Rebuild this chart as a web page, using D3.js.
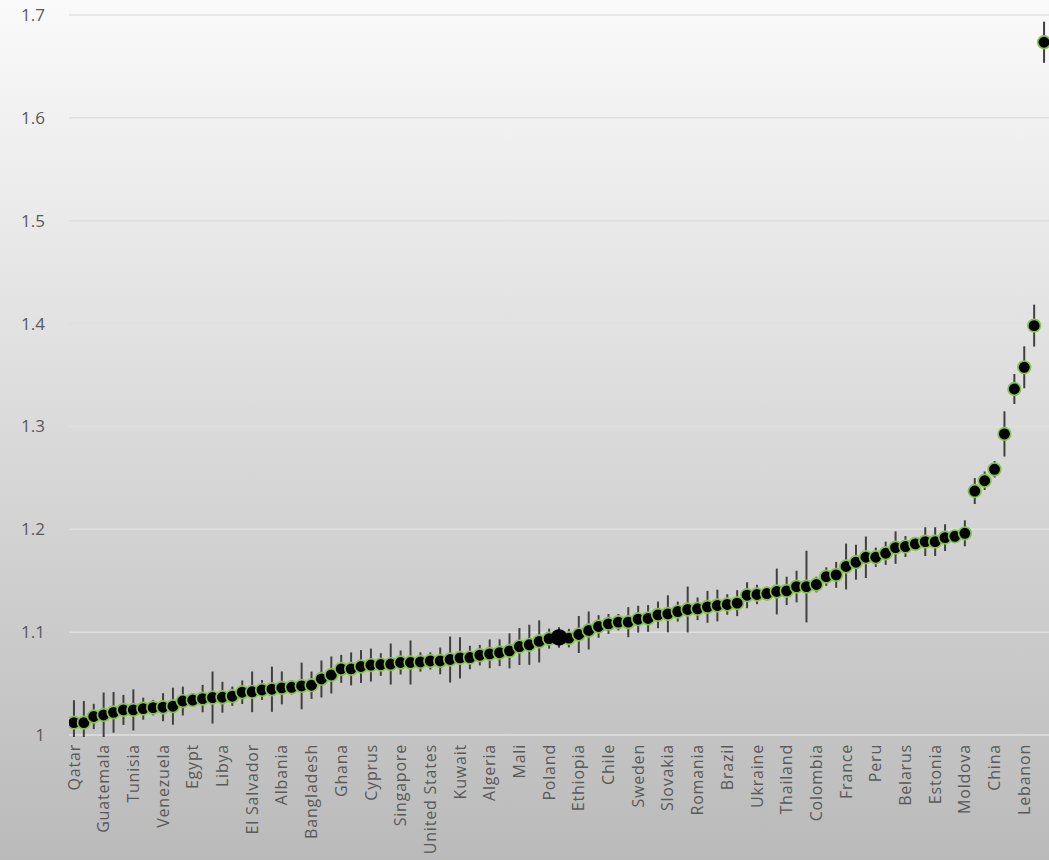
<!DOCTYPE html>
<html><head><meta charset="utf-8">
<script src="https://cdn.jsdelivr.net/npm/d3@7"></script>
<style>
html,body{margin:0;padding:0;}
svg{display:block;}
text{font-family:"Open Sans","Lato",sans-serif;fill:#595959;}
</style></head>
<body>
<script>
// Tick labels shown on the category axis (every third category)
const tickLabels = ["Qatar","Guatemala","Tunisia","Venezuela","Egypt","Libya","El Salvador","Albania","Bangladesh","Ghana","Cyprus","Singapore","United States","Kuwait","Algeria","Mali","Poland","Ethiopia","Chile","Sweden","Slovakia","Romania","Brazil","Ukraine","Thailand","Colombia","France","Peru","Belarus","Estonia","Moldova","China","Lebanon"];
const labelStep = 3;
// Point estimates, in sorted order (99 countries)
const values = [1.012,1.012,1.018,1.0195,1.022,1.0244,1.0244,1.0256,1.0266,1.027,
1.028,1.033,1.034,1.0354,1.0364,1.0367,1.0377,1.0416,1.042,1.0438,
1.0445,1.0458,1.0464,1.0477,1.0484,1.0545,1.0584,1.0643,1.0643,1.0666,
1.068,1.0685,1.069,1.0705,1.0705,1.071,1.072,1.072,1.0734,1.075,
1.0753,1.0776,1.0789,1.080,1.0818,1.086,1.0877,1.091,1.0937,1.0948,
1.0942,1.0977,1.1016,1.1055,1.108,1.1097,1.1097,1.1126,1.1133,1.1168,
1.1178,1.120,1.122,1.1227,1.1246,1.1259,1.1269,1.1282,1.1359,1.1366,
1.1375,1.1395,1.1401,1.1443,1.1443,1.1463,1.154,1.1557,1.1638,1.168,
1.1728,1.1728,1.1767,1.1822,1.1832,1.1858,1.188,1.188,1.1919,1.1932,
1.1961,1.2372,1.2472,1.2583,1.2927,1.3364,1.3575,1.398,1.6735];
// Error bar half-widths
const errors = [0.0218,0.021,0.0123,0.0218,0.0198,0.0146,0.020,0.0107,0.0075,0.0136,
0.018,0.014,0.0065,0.0133,0.0253,0.015,0.0094,0.0114,0.0198,0.0097,
0.022,0.016,0.007,0.0227,0.0133,0.018,0.018,0.0136,0.016,0.016,
0.016,0.011,0.020,0.0117,0.0214,0.0094,0.0084,0.013,0.0224,0.020,
0.0114,0.010,0.014,0.013,0.017,0.018,0.0195,0.0205,0.0097,0.010,
0.009,0.018,0.0185,0.011,0.0097,0.008,0.0146,0.013,0.013,0.013,
0.018,0.0097,0.0223,0.011,0.0155,0.0154,0.010,0.0126,0.0126,0.0094,
0.0066,0.0223,0.0138,0.0154,0.0348,0.0076,0.009,0.0126,0.0223,0.017,
0.0202,0.0094,0.0113,0.0158,0.0102,0.0057,0.014,0.014,0.013,0.005,
0.0126,0.0126,0.009,0.008,0.022,0.0146,0.0204,0.0204,0.02];
const highlightIndex = 49;
const yTicks = [1,1.1,1.2,1.3,1.4,1.5,1.6,1.7];

const W = 1049, H = 860;
const plot = {left:69, right:1049, top:15, bottom:735};

const svg = d3.select("body").append("svg").attr("width",W).attr("height",H);
const defs = svg.append("defs");
const grad = defs.append("linearGradient").attr("id","bg").attr("x1",0).attr("y1",0).attr("x2",0).attr("y2",1);
grad.append("stop").attr("offset","0%").attr("stop-color","#fafafa");
grad.append("stop").attr("offset","100%").attr("stop-color","#bababa");
svg.append("rect").attr("width",W).attr("height",H).attr("fill","url(#bg)");

defs.append("clipPath").attr("id","clip").append("rect")
  .attr("x",plot.left).attr("y",plot.top-2).attr("width",plot.right-plot.left).attr("height",plot.bottom-plot.top+4);

const idx = d3.range(values.length);
const x = d3.scaleBand().domain(idx).range([plot.left, plot.right]);
const y = d3.scaleLinear().domain([1,1.7]).range([plot.bottom, plot.top]);

// gridlines
svg.append("g").selectAll("line").data(yTicks).join("line")
  .attr("x1",plot.left).attr("x2",plot.right)
  .attr("y1",d=>y(d)).attr("y2",d=>y(d))
  .attr("stroke","#e0e0e0").attr("stroke-width",1.5);

// y axis labels
const yAxis = d3.axisLeft(y).tickValues(yTicks).tickSize(0).tickPadding(24)
  .tickFormat(d=>d3.format("")(+d.toFixed(1)));
const gy = svg.append("g").attr("transform",`translate(${plot.left},0)`).call(yAxis);
gy.select(".domain").remove();
gy.selectAll("text").style("font-size","17px").style("font-family","Open Sans, sans-serif").attr("fill","#595959");

// x axis labels
const xAxis = d3.axisBottom(x)
  .tickValues(idx.filter(i=>i%labelStep===0))
  .tickFormat(i=>tickLabels[i/labelStep]).tickSize(0);
const gx = svg.append("g").attr("transform",`translate(0,${plot.bottom})`).call(xAxis);
gx.select(".domain").remove();
gx.selectAll("text").style("font-size","16px").style("font-family","Open Sans, sans-serif")
  .style("letter-spacing","0.8px").attr("fill","#595959")
  .attr("text-anchor","end").attr("transform","rotate(-90)")
  .attr("x",-9).attr("y",0).attr("dy","0.35em");

const cx = i => x(i) + x.bandwidth()/2;
const g = svg.append("g").attr("clip-path","url(#clip)");
// error bars
g.selectAll("line.err").data(idx).join("line").attr("class","err")
  .attr("x1",cx).attr("x2",cx)
  .attr("y1",i=>y(values[i]-errors[i])).attr("y2",i=>y(values[i]+errors[i]))
  .attr("stroke","#404040").attr("stroke-width",2);
// markers
g.selectAll("circle.pt").data(idx.filter(i=>i!==highlightIndex)).join("circle").attr("class","pt")
  .attr("cx",cx).attr("cy",i=>y(values[i])).attr("r",6.3)
  .attr("fill","#000").attr("stroke","#86c34a").attr("stroke-width",1.7);
g.append("circle").attr("cx",cx(highlightIndex)).attr("cy",y(values[highlightIndex]))
  .attr("r",8.3).attr("fill","#000");
</script>
</body></html>
